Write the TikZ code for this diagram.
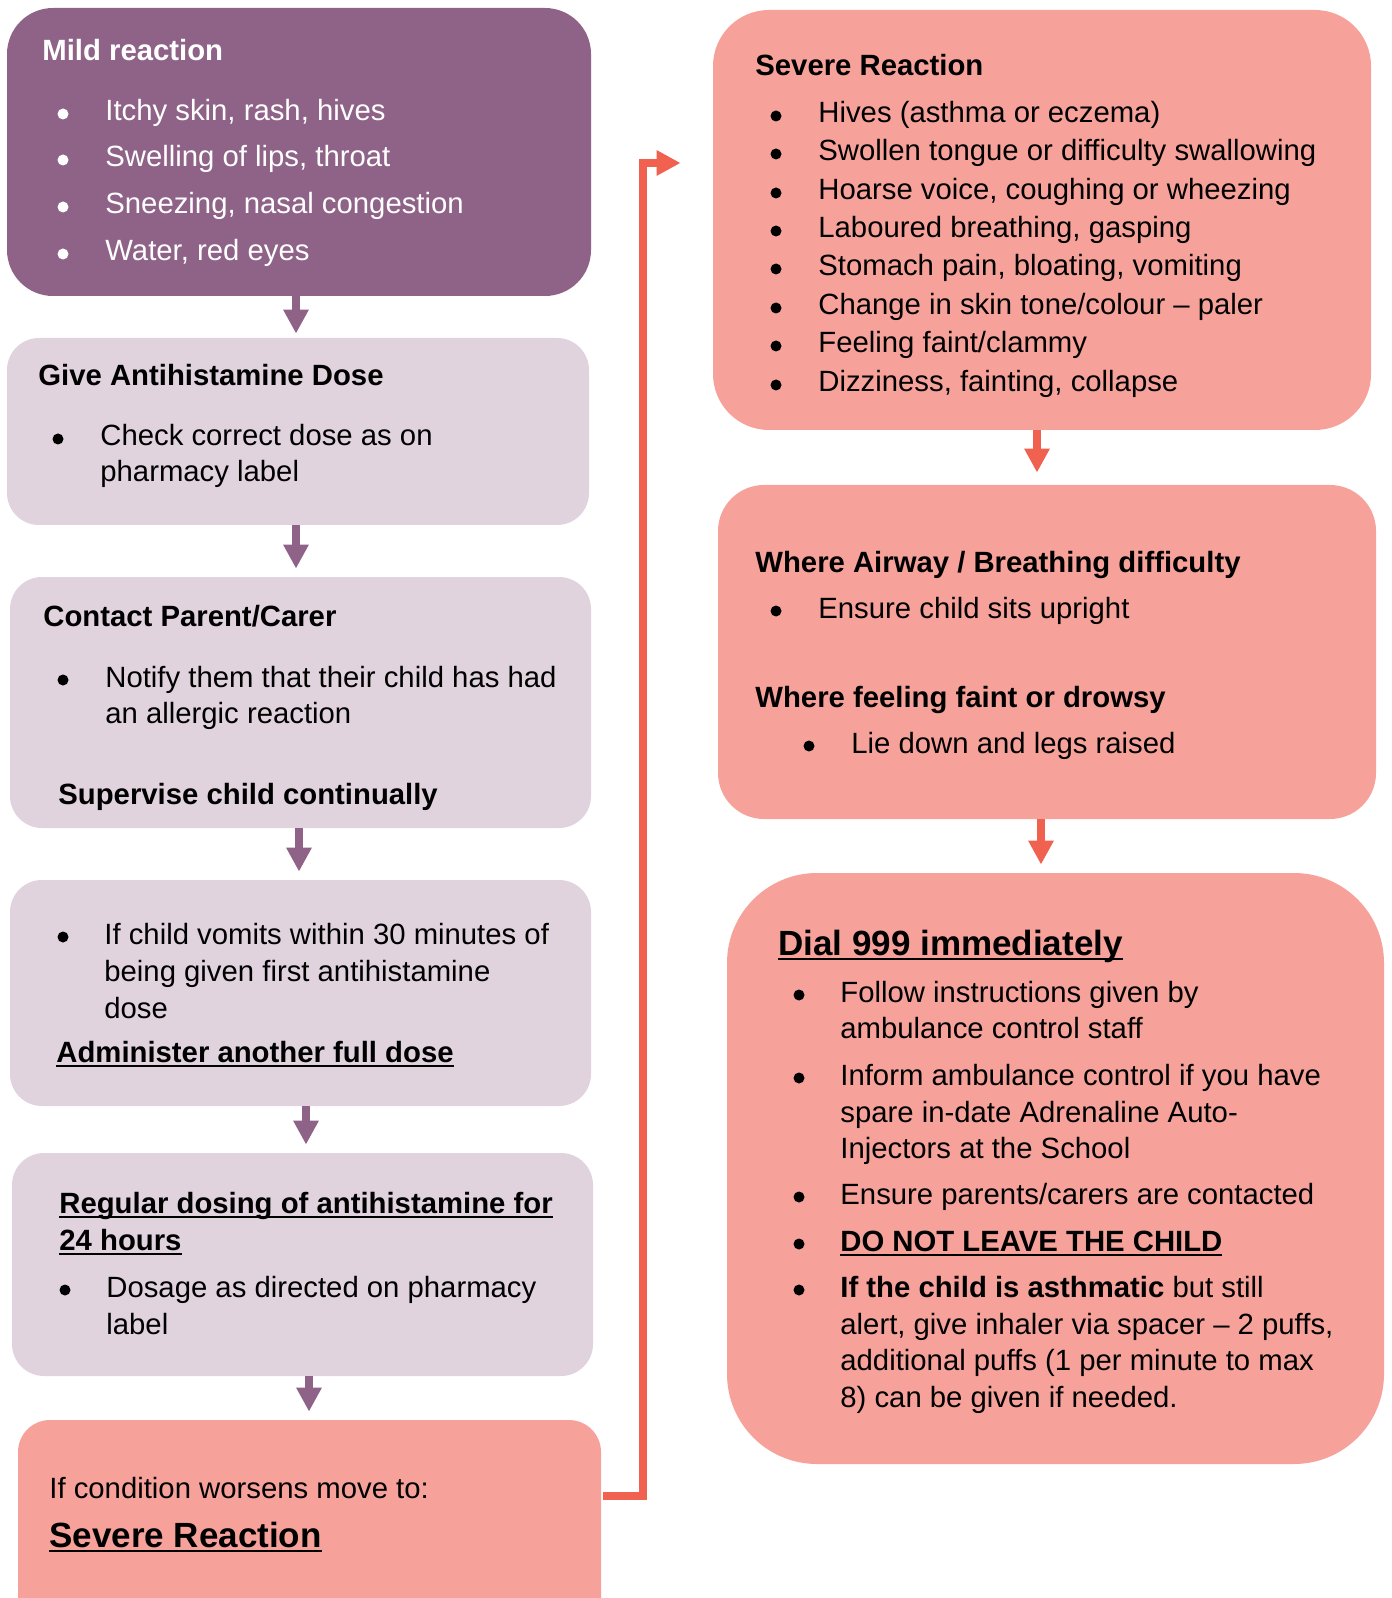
\documentclass[tikz,border=0pt]{standalone}
\usepackage{fontspec}
\setmainfont{Liberation Sans}
\usepackage{tikz}
\usetikzlibrary{arrows.meta}
\definecolor{mildpurple}{HTML}{8F6387}
\definecolor{lilac}{HTML}{E0D3DE}
\definecolor{salmon}{HTML}{F6A29A}
\definecolor{alarmred}{HTML}{F0614F}
\newcommand{\bodyfont}{\fontsize{14.65pt}{17pt}\selectfont}
\newcommand{\bigfont}{\fontsize{17.5pt}{21pt}\selectfont}
\newcommand{\undl}[1]{\sbox0{#1}\rlap{\rule[-2.6pt]{\wd0}{1.3pt}}\box0}

\begin{document}
\begin{tikzpicture}[x=0.5pt, y=-0.5pt, >={Triangle[width=12pt,length=12pt]},
      every node/.append style={inner sep=0pt, font=\bodyfont},
      panel/.style={rounded corners=16pt, fill=lilac},
      flow/.style={->, line width=4pt, shorten >=4pt}]
    \tikzstyle{txt} = [anchor=base west]
    \tikzstyle{head} = [txt, font=\bodyfont\bfseries]
    \tikzstyle{dot} = [circle, fill, minimum size=5.5pt, yshift=3.5pt]
    \clip (0,0) rectangle (1391,1598);
    % left column
    \node[panel, fill=mildpurple, rounded corners=23pt, minimum width=292pt, minimum height=144pt] (mild) at (299,152) {};
    \node[panel, minimum width=291pt, minimum height=93.5pt] (give) at (298,431.5) {};
    \node[panel, minimum width=290.5pt, minimum height=125.5pt] (contact) at (300.5,702.5) {};
    \node[panel, minimum width=290.5pt, minimum height=113pt] (vomit) at (300.5,993) {};
    \node[panel, minimum width=290.5pt, minimum height=111.5pt] (regular) at (302.5,1264.5) {};
    \node[panel, fill=salmon, minimum width=291.5pt, minimum height=110pt] (worse) at (309.5,1530) {};
    % right column
    \node[panel, fill=salmon, rounded corners=28pt, minimum width=329pt, minimum height=210pt] (severe) at (1042,220) {};
    \node[panel, fill=salmon, rounded corners=23pt, minimum width=329pt, minimum height=167pt] (airway) at (1047,652) {};
    \node[panel, fill=salmon, rounded corners=45pt, minimum width=328.5pt, minimum height=295.5pt] (dial) at (1055.5,1168.5) {};

    % mild reaction
    \node[head, white] (mild-head) at (42,61) {Mild reaction};
    \foreach \y/\t [count=\i] in {121/{Itchy skin, rash, hives}, 167/{Swelling of lips, throat},
        214/{Sneezing, nasal congestion}, 261/{Water, red eyes}} {
      \node[dot, white] (mild-b\i) at (63,\y) {};
      \node[txt, white] (mild-\i) at (105,\y) {\t};
    }
    % antihistamine
    \node[head] (give-head) at (38,386) {Give Antihistamine Dose};
    \node[dot] (give-b1) at (58,446) {};
    \node[txt] (give-1) at (100,446) {Check correct dose as on};
    \node[txt] (give-2) at (100,482) {pharmacy label};
    % parent
    \node[head] (contact-head) at (43,626) {Contact Parent/Carer};
    \node[dot] (contact-b1) at (63,687) {};
    \node[txt] (contact-1) at (105,687) {Notify them that their child has had};
    \node[txt] (contact-2) at (105,723) {an allergic reaction};
    \node[head] (contact-sup) at (58,804) {Supervise child continually};
    % vomits
    \node[dot] (vomit-b1) at (63,944) {};
    \node[txt] (vomit-1) at (104,944) {If child vomits within 30 minutes of};
    \node[txt] (vomit-2) at (104,981) {being given first antihistamine};
    \node[txt] (vomit-3) at (104,1018) {dose};
    \node[head] (vomit-again) at (56,1062) {\undl{Administer another full dose}};
    % regular dosing
    \node[head] (regular-head) at (59,1213) {\undl{Regular dosing of antihistamine for}};
    \node[head] (regular-head2) at (59,1250) {\undl{24 hours}};
    \node[dot] (regular-b1) at (65,1297) {};
    \node[txt] (regular-1) at (106,1297) {Dosage as directed on pharmacy};
    \node[txt] (regular-2) at (106,1334) {label};
    % worsens
    \node[txt] (worse-1) at (49,1498) {If condition worsens move to:};
    \node[txt, font=\bigfont\bfseries] (worse-2) at (49,1547) {\undl{Severe Reaction}};

    % severe reaction
    \node[head] (severe-head) at (755,76) {Severe Reaction};
    \foreach \y/\t [count=\i] in {123/{Hives (asthma or eczema)}, 161/{Swollen tongue or difficulty swallowing},
        200/{Hoarse voice, coughing or wheezing}, 238/{Laboured breathing, gasping},
        276/{Stomach pain, bloating, vomiting}, 315/{Change in skin tone/colour – paler},
        353/{Feeling faint/clammy}, 392/{Dizziness, fainting, collapse}} {
      \node[dot] (severe-b\i) at (776,\y) {};
      \node[txt] (severe-\i) at (818,\y) {\t};
    }
    % airway
    \node[head] (airway-head) at (755,572) {Where Airway / Breathing difficulty};
    \node[dot] (airway-b1) at (776,618) {};
    \node[txt] (airway-1) at (818,618) {Ensure child sits upright};
    \node[head] (faint-head) at (755,707) {Where feeling faint or drowsy};
    \node[dot] (faint-b1) at (809,753) {};
    \node[txt] (faint-1) at (851,753) {Lie down and legs raised};
    % dial 999
    \node[txt, font=\bigfont\bfseries] (dial-head) at (778,955) {\undl{Dial 999 immediately}};
    \foreach \y [count=\i] in {1002,1085,1204,1251,1297}
      \node[dot] (dial-b\i) at (799,\y) {};
    \foreach \y/\t [count=\i] in {1002/{Follow instructions given by}, 1038/{ambulance control staff},
        1085/{Inform ambulance control if you have}, 1122/{spare in-date Adrenaline Auto-},
        1158/{Injectors at the School}, 1204/{Ensure parents/carers are contacted},
        1251/{\textbf{\undl{DO NOT LEAVE THE CHILD}}}, 1297/{\textbf{If the child is asthmatic} but still},
        1334/{alert, give inhaler via spacer – 2 puffs,}, 1370/{additional puffs (1 per minute to max},
        1407/{8) can be given if needed.}}
      \node[txt] (dial-\i) at (840,\y) {\t};

    % connectors
    \draw[flow, mildpurple, shorten >=2pt] ([xshift=-1.5pt]mild.south) -- ([xshift=-1.5pt]mild.south |- give.north);
    \draw[flow, mildpurple] ([xshift=-1pt]give.south) -- ([xshift=-1pt]give.south |- contact.north);
    \draw[flow, mildpurple] ([xshift=-0.75pt]contact.south) -- ([xshift=-0.75pt]contact.south |- vomit.north);
    \draw[flow, mildpurple] ([xshift=2.75pt]vomit.south) -- ([xshift=2.75pt]vomit.south |- regular.north);
    \draw[flow, mildpurple] ([xshift=3.25pt]regular.south) -- ([xshift=3.25pt]regular.south |- worse.north);
    \draw[flow, alarmred, shorten >=6pt] ([xshift=-2.5pt]severe.south) -- ([xshift=-2.5pt]severe.south |- airway.north);
    \draw[flow, alarmred] ([xshift=-3pt]airway.south) -- ([xshift=-3pt]airway.south |- dial.north);
    \draw[flow, alarmred, shorten >=0pt] ([xshift=1pt,yshift=17pt]worse.east) -- ++(20pt,0)
      |- ([xshift=-16pt,yshift=28.5pt]severe.west);
\end{tikzpicture}
\end{document}
